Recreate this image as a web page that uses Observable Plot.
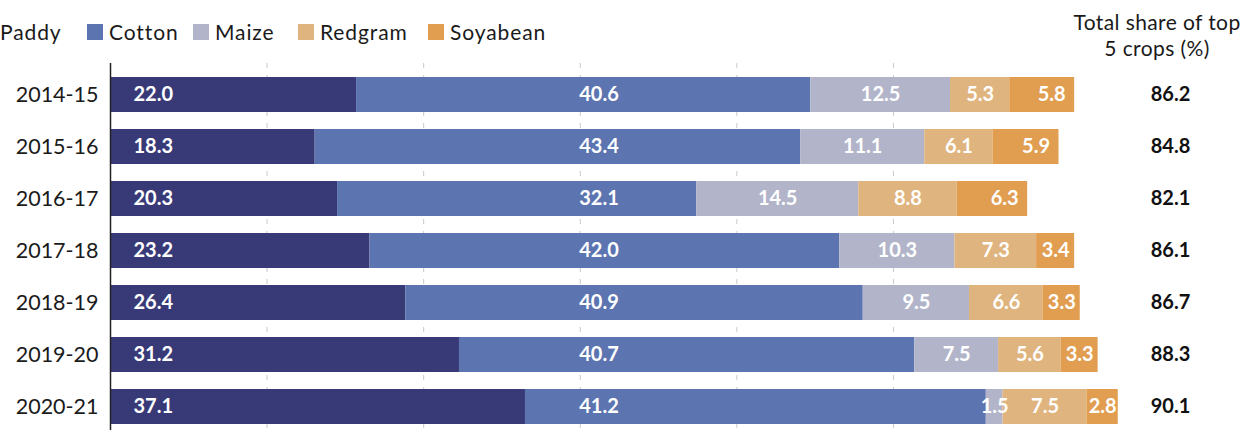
<!DOCTYPE html>
<html><head><meta charset="utf-8">
<script src="https://cdn.jsdelivr.net/npm/d3@7"></script>
<script src="https://cdn.jsdelivr.net/npm/@observablehq/plot@0.6"></script>
<style>
html,body{margin:0;padding:0;background:#fff;overflow:hidden}
body{font-family:Lato,"Noto Sans",sans-serif;color:#1a1a1a}
#wrap{position:relative;width:1257px;height:430px;overflow:hidden}
#chart{position:absolute;left:0;top:0}
#legend{position:absolute;left:0;top:20px;height:24px;width:1257px;font-size:21px;line-height:24px;letter-spacing:0.9px;white-space:nowrap}
#legend .it{position:absolute;top:0;display:flex;align-items:center;gap:6px}
#legend .sw{width:16px;height:16px;display:inline-block}
#hdr{position:absolute;left:1047px;top:9px;width:220px;text-align:center;font-size:21px;line-height:26px;letter-spacing:0.4px}
</style></head><body>
<div id="wrap"><div id="chart"></div><div id="legend"></div><div id="hdr">Total share of top<br>5 crops (%)</div></div>
<script>
const years = ["2014-15","2015-16","2016-17","2017-18","2018-19","2019-20","2020-21"];
const crops = ["Paddy","Cotton","Maize","Redgram","Soyabean"];
const paddy = [22.0,18.3,20.3,23.2,26.4,31.2,37.1];
const cotton = [40.6,43.4,32.1,42.0,40.9,40.7,41.2];
const maize = [12.5,11.1,14.5,10.3,9.5,7.5,1.5];
const redgram = [5.3,6.1,8.8,7.3,6.6,5.6,7.5];
const soyabean = [5.8,5.9,6.3,3.4,3.3,3.3,2.8];
const totals = [86.2,84.8,82.1,86.1,86.7,88.3,90.1];
const colors = ["#383a78","#5c74b0","#b2b5ca","#dfb47e","#e19d50"];
const gridTicks = [14,28,42,56,70];

// legend layout (swatch left edges, px)
const legendLeft = [-22, 87, 193, 298, 428];

const series = [paddy, cotton, maize, redgram, soyabean];
const rows = [];
years.forEach((y, i) => {
  let acc = 0;
  crops.forEach((c, j) => {
    const v = series[j][i];
    rows.push({year: y, crop: c, value: v, x1: acc, x2: acc + v, label: v.toFixed(1)});
    acc += v;
  });
});
const totRows = years.map((y, i) => ({year: y, total: totals[i].toFixed(1)}));

const lab = {fill: "white", fontWeight: 700, fontSize: 20, fontFamily: "Lato, sans-serif"};
const chart = Plot.plot({
  width: 1257, height: 442,
  marginLeft: 110, marginRight: 28.5, marginTop: 59, marginBottom: 0,
  style: {fontFamily: "Lato, sans-serif", background: "transparent"},
  x: {domain: [0, 100], axis: null},
  y: {domain: years, paddingInner: 0.318, paddingOuter: 0.318, label: null},
  color: {domain: crops, range: colors},
  marks: [
    Plot.ruleX(gridTicks, {stroke: "#c8c8c8", strokeDasharray: "5,7", insetTop: 4}),
    Plot.barX(rows, {x1: "x1", x2: "x2", y: "year", fill: "crop"}),
    Plot.ruleX([0], {stroke: "#222", strokeWidth: 1.5, insetTop: 4}),
    Plot.axisY({tickSize: 0, tickPadding: 12, fontSize: 21.5, label: null, fill: "#1a1a1a", style: {letterSpacing: "2px"}}),
    Plot.text(rows.filter(d => d.crop === "Paddy"), {x: 0, y: "year", text: "label", dx: 23, textAnchor: "start", ...lab}),
    Plot.text(rows.filter(d => d.crop === "Cotton"), {y: "year", text: "label", frameAnchor: "left", dx: 488.5, textAnchor: "middle", ...lab}),
    Plot.text(rows.filter(d => d.crop === "Maize" || d.crop === "Redgram" || (d.crop === "Soyabean" && d.value < 5)),
      {x: d => (d.x1 + d.x2) / 2, y: "year", text: "label", ...lab}),
    Plot.text(rows.filter(d => d.crop === "Soyabean" && d.value >= 5),
      {x: "x2", y: "year", text: "label", dx: -9, textAnchor: "end", ...lab}),
    Plot.text(totRows, {y: "year", text: "total", frameAnchor: "right", dx: -58.5, textAnchor: "middle", fontWeight: 700, fontSize: 20, fill: "#111"})
  ]
});
document.getElementById("chart").appendChild(chart);

const leg = document.getElementById("legend");
crops.forEach((c, j) => {
  const it = document.createElement("div");
  it.className = "it";
  it.style.left = legendLeft[j] + "px";
  const sw = document.createElement("span");
  sw.className = "sw";
  sw.style.background = colors[j];
  const t = document.createElement("span");
  t.textContent = c;
  it.appendChild(sw); it.appendChild(t);
  leg.appendChild(it);
});
</script>
</body></html>
